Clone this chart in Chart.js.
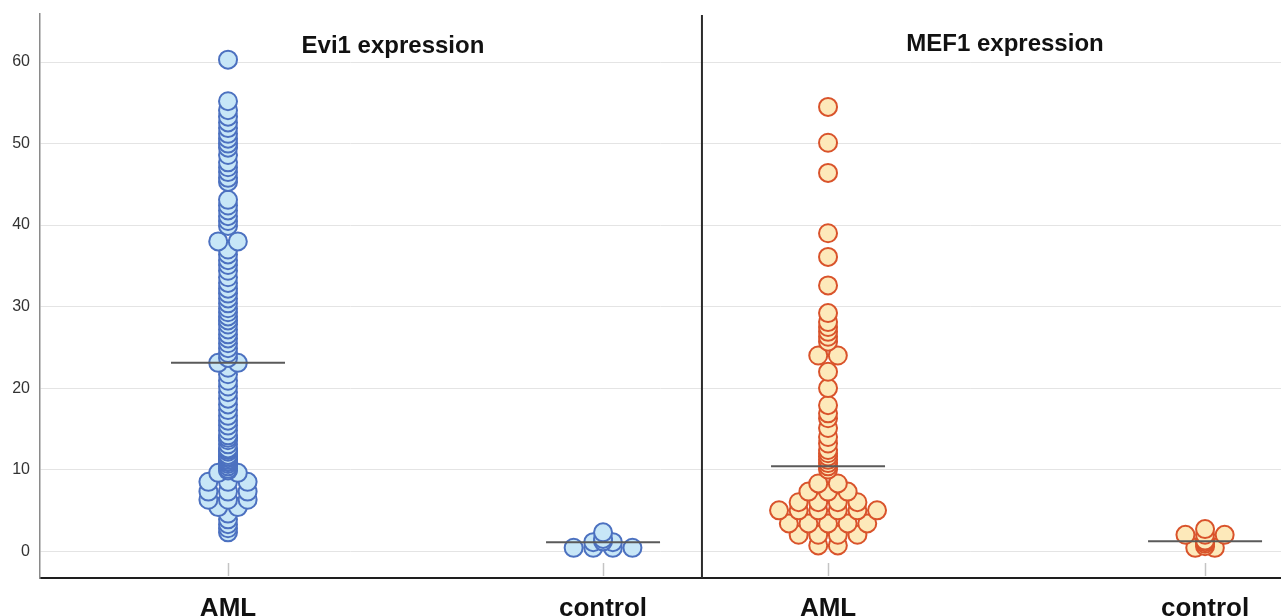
<!DOCTYPE html>
<html>
<head>
<meta charset="utf-8">
<script src="https://cdn.jsdelivr.net/npm/chart.js@4.4.1/dist/chart.umd.min.js"></script>
<style>
  html, body { margin: 0; padding: 0; background: #fff; }
  canvas { display: block; }
</style>
</head>
<body>
<canvas id="c" width="1281" height="616"></canvas>
<script>
// ---- data ----
const panelTitles = ['Evi1 expression', 'MEF1 expression'];
const categoryLabels = ['AML', 'control', 'AML', 'control'];
const yTickValues = [0, 10, 20, 30, 40, 50, 60];

const evi1AML = [
  60.3,
  55.2, 54.1, 53.3, 52.6, 51.9, 51.2, 50.6, 50.0, 49.5, 48.6, 47.7, 47.1, 46.5, 45.8, 45.3,
  43.1, 42.4, 41.8, 41.1, 40.5, 39.9,
  38.0, 38.0,
  37.0, 36.4, 35.7, 35.1, 34.4, 33.6, 32.9, 32.2, 31.6, 31.0, 30.4, 29.8, 29.3, 28.8,
  28.3, 27.8, 27.2, 26.6, 26.1, 25.5, 24.9, 24.3, 23.7,
  23.1, 23.1,
  22.5, 21.7, 20.9, 20.2, 19.5, 18.7, 18.0, 17.3, 16.6, 16.0, 15.4, 14.8, 14.2, 13.9,
  13.6, 13.1, 12.6, 12.4, 12.2, 11.8, 11.6, 11.4, 11.2, 11.0, 10.9, 10.7, 10.4, 10.1, 9.9,
  9.6, 9.6, 8.5, 8.5, 8.5, 7.3, 7.3, 7.3, 6.3, 6.3, 6.3, 5.4, 5.4,
  4.6, 3.9, 3.3, 2.8, 2.3
];
const evi1Control = [2.3, 1.5, 1.2, 1.1, 1.1, 0.4, 0.4, 0.4, 0.4];

const mef1AML = [
  54.5, 50.1, 46.4, 39.0, 36.1, 32.6, 29.2, 28.1, 27.5, 26.9, 26.3, 25.7, 24.0, 24.0,
  22.0, 20.0, 17.9, 16.9, 16.3, 15.1, 14.0, 13.2, 12.4, 12.0, 11.6, 11.2, 10.8, 10.4, 10.0,
  8.3, 8.3,
  7.3, 7.3, 7.3,
  6.0, 6.0, 6.0, 6.0,
  5.0, 5.0, 5.0, 5.0, 5.0, 5.0,
  3.4, 3.4, 3.4, 3.4, 3.4,
  2.0, 2.0, 2.0, 2.0,
  0.7, 0.7
];
const mef1Control = [2.7, 2.0, 2.0, 2.0, 1.3, 1.1, 0.9, 0.6, 0.4, 0.4];

// ---- layout (x scale runs 0..100 across the plot area) ----
const groupX = [15.15, 45.37, 63.5, 93.88];
const dividerX = 53.34;
const titleX = [28.44, 77.76];
const FONT = "'Liberation Sans', Arial, Helvetica, sans-serif";

const blueFill = '#c7e6f7', blueLine = '#4c71c0';
const orangeFill = '#fde9ba', orangeLine = '#d9532b';

const groups = [
  { values: evi1AML, fill: blueFill, line: blueLine },
  { values: evi1Control, fill: blueFill, line: blueLine },
  { values: mef1AML, fill: orangeFill, line: orangeLine },
  { values: mef1Control, fill: orangeFill, line: orangeLine }
];

const DOT_STEP_PX = 19.6;     // horizontal spacing of tied values
const MEDIAN_HALF_PX = 57;    // half length of the median bar

function median(values) {
  const s = values.slice().sort((a, b) => a - b);
  const m = Math.floor(s.length / 2);
  return s.length % 2 ? s[m] : (s[m - 1] + s[m]) / 2;
}

// Symmetric dot layout: equal values sit side by side, centred on the group.
function swarm(values, cx, step) {
  const sorted = values.slice().sort((a, b) => a - b);
  const counts = {};
  sorted.forEach(v => { const k = v.toFixed(2); counts[k] = (counts[k] || 0) + 1; });
  const seen = {};
  return sorted.map(v => {
    const k = v.toFixed(2);
    const n = counts[k];
    const i = seen[k] || 0;
    seen[k] = i + 1;
    return { x: cx + (i - (n - 1) / 2) * step, y: v };
  });
}

function buildDatasets(unitsPerPx) {
  const dots = groups.map((g, gi) => ({
    type: 'scatter',
    data: swarm(g.values, groupX[gi], DOT_STEP_PX * unitsPerPx),
    backgroundColor: g.fill,
    borderColor: g.line,
    borderWidth: 2,
    pointRadius: 9,
    pointHoverRadius: 9,
    order: 2
  }));
  const bars = groups.map((g, gi) => {
    const m = median(g.values);
    const h = MEDIAN_HALF_PX * unitsPerPx;
    return {
      type: 'line',
      data: [{ x: groupX[gi] - h, y: m }, { x: groupX[gi] + h, y: m }],
      borderColor: '#5a5a5a',
      borderWidth: 2,
      pointRadius: 0,
      fill: false,
      order: 1
    };
  });
  return dots.concat(bars);
}

const panelDecor = {
  id: 'panelDecor',
  beforeDatasetsDraw(chart) {
    const { ctx, chartArea, scales } = chart;
    ctx.save();
    // small category tick marks above the baseline
    ctx.strokeStyle = '#c4c4c4';
    ctx.lineWidth = 1.5;
    groupX.forEach(v => {
      const px = Math.round(scales.x.getPixelForValue(v)) + 0.5;
      ctx.beginPath();
      ctx.moveTo(px, chartArea.bottom - 15);
      ctx.lineTo(px, chartArea.bottom - 2);
      ctx.stroke();
    });
    // panel divider
    const dx = scales.x.getPixelForValue(dividerX);
    ctx.strokeStyle = '#2b2b2b';
    ctx.lineWidth = 2;
    ctx.beginPath();
    ctx.moveTo(dx, chartArea.top + 1);
    ctx.lineTo(dx, chartArea.bottom);
    ctx.stroke();
    ctx.restore();
  },
  afterDatasetsDraw(chart) {
    const { ctx, scales } = chart;
    ctx.save();
    ctx.fillStyle = '#111';
    ctx.font = 'bold 24px ' + FONT;
    ctx.textAlign = 'center';
    ctx.textBaseline = 'alphabetic';
    panelTitles.forEach((t, i) => {
      ctx.fillText(t, scales.x.getPixelForValue(titleX[i]), i === 0 ? 53 : 51);
    });
    ctx.restore();
  }
};

const chart = new Chart(document.getElementById('c'), {
  type: 'scatter',
  data: { datasets: buildDatasets(100 / 1241) },
  options: {
    responsive: false,
    animation: false,
    devicePixelRatio: 1,
    layout: { autoPadding: false, padding: { top: 14, left: 0, right: 0, bottom: 0 } },
    plugins: { legend: { display: false }, tooltip: { enabled: false } },
    scales: {
      x: {
        type: 'linear',
        min: 0,
        max: 100,
        afterBuildTicks: s => { s.ticks = groupX.map(v => ({ value: v })); },
        afterFit: s => { s.height = 38; s.paddingLeft = 0; s.paddingRight = 0; },
        grid: { display: false, drawTicks: false },
        border: { display: true, color: '#1e1e1e', width: 2 },
        ticks: {
          autoSkip: false,
          maxRotation: 0,
          padding: 15,
          color: '#111',
          font: { family: FONT, size: 26, weight: 'bold' },
          callback: (v, i) => categoryLabels[i]
        }
      },
      y: {
        min: -3.3,
        max: 65.9,
        afterBuildTicks: s => { s.ticks = yTickValues.map(v => ({ value: v })); },
        afterFit: s => { s.width = 40; s.paddingTop = 0; s.paddingBottom = 0; },
        grid: { color: '#e4e4e4', lineWidth: 1, drawTicks: false },
        border: { display: true, color: '#8a8a8a', width: 1.5 },
        ticks: {
          padding: 10,
          color: '#333',
          font: { family: FONT, size: 16 }
        }
      }
    }
  },
  plugins: [panelDecor]
});

// Re-lay the dots with the real pixel width of the x scale.
const xs = chart.scales.x;
const upx = (xs.max - xs.min) / (xs.right - xs.left);
chart.data.datasets = buildDatasets(upx);
chart.update('none');
</script>
</body>
</html>
